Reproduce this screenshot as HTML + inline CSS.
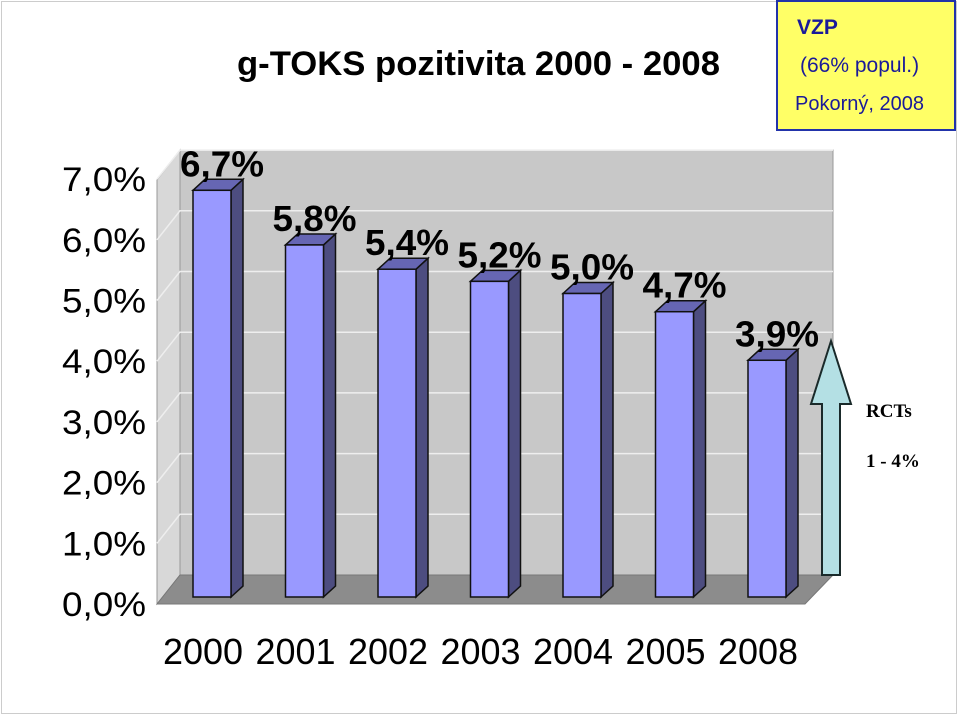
<!DOCTYPE html>
<html><head><meta charset="utf-8"><style>
html,body{margin:0;padding:0;background:#fff}
svg{display:block;font-family:"Liberation Sans",Arial,sans-serif}
</style></head><body>
<svg id="chart" width="960" height="716" viewBox="0 0 960 716" xmlns="http://www.w3.org/2000/svg">
<rect x="1.5" y="1.5" width="955" height="712" fill="#fff" stroke="#ccc" stroke-width="1"/>
<text x="237" y="75" font-size="34" font-weight="bold" textLength="483" lengthAdjust="spacingAndGlyphs">g-TOKS pozitivita 2000 - 2008</text>
<g>
<rect x="777" y="1" width="178" height="129" fill="#ffff66" stroke="#2233aa" stroke-width="2"/>
<text x="797" y="34" font-size="21" font-weight="bold" fill="#1a1a9a">VZP</text>
<text x="800" y="72" font-size="21" fill="#1a1a9a">(66% popul.)</text>
<text x="795" y="110" font-size="20" fill="#1a1a9a">Pokorný, 2008</text>
</g>
<g id="walls"></g>
<g id="bars"></g>
<g id="labels"></g>
<g>
<polygon points="822,575 840,575 840,404 851,404 831,341 811,404 822,404" fill="#b4e0e4" stroke="#1a2a2a" stroke-width="2"/>
</g>
<text x="866" y="417" font-family="'Liberation Serif',serif" font-weight="bold" font-size="19">RCTs</text>
<text x="866" y="467" font-family="'Liberation Serif',serif" font-weight="bold" font-size="19">1 - 4%</text>
</svg>
<script>
const categories=["2000","2001","2002","2003","2004","2005","2008"];
const values=[6.7,5.8,5.4,5.2,5.0,4.7,3.9];
const valueLabels=["6,7%","5,8%","5,4%","5,2%","5,0%","4,7%","3,9%"];
const yTicks=[0,1,2,3,4,5,6,7];
const yTickLabels=["0,0%","1,0%","2,0%","3,0%","4,0%","5,0%","6,0%","7,0%"];
const NS="http://www.w3.org/2000/svg";
const svg=document.getElementById('chart');
function mk(tag,attrs,parent){const e=document.createElementNS(NS,tag);for(const k in attrs)e.setAttribute(k,attrs[k]);parent.appendChild(e);return e;}
const unit=60.7, dx=23, dy=29;
const yBack=v=>575-v*unit, yFront=v=>604-v*unit, yBar=v=>597-v*unit;
const xc=i=>212+i*92.5;
const walls=document.getElementById('walls');
let w=mk('polygon',{points:"180,150 833,150 833,575 180,575",fill:"#c8c8c8",stroke:"#999"},walls);

w=mk('polygon',{points:"157,180 180,150 180,575 157,604",fill:"#d8d8d8",stroke:"#999"},walls);

w=mk('polygon',{points:"157,604 180,575 833,575 805,604",fill:"#8c8c8c",stroke:"#777"},walls);

yTicks.forEach((t,i)=>{
  if(t>0){const g=mk('polyline',{points:`157,${yFront(t)} 180,${yBack(t)} 833,${yBack(t)}`,fill:"none",stroke:"#eee","stroke-width":1.5},walls);
  }
  const tx=mk('text',{x:146,y:yFront(t)+12,"font-size":34,"text-anchor":"end",textLength:84,lengthAdjust:"spacingAndGlyphs"},walls);
  tx.textContent=yTickLabels[i];
  
});
const bars=document.getElementById('bars'), labels=document.getElementById('labels');
values.forEach((v,i)=>{
  const x0=xc(i)-19,x1=xc(i)+19,b=597,t=yBar(v),ox=12,oy=11;
  const g=mk('g',{},bars);
  
  mk('polygon',{points:`${x1},${b} ${x1+ox},${b-oy} ${x1+ox},${t-oy} ${x1},${t}`,fill:"#4d4d80",stroke:"#111","stroke-width":1.5},g);
  mk('polygon',{points:`${x0},${t} ${x0+ox},${t-oy} ${x1+ox},${t-oy} ${x1},${t}`,fill:"#6666b3",stroke:"#111","stroke-width":1.5},g);
  mk('rect',{x:x0,y:t,width:38,height:b-t,fill:"#9999ff",stroke:"#111","stroke-width":1.5},g);
  const l=mk('text',{x:xc(i)+10,y:t-14,"font-size":36,"font-weight":"bold","text-anchor":"middle",textLength:84,lengthAdjust:"spacingAndGlyphs"},labels);
  l.textContent=valueLabels[i];
  
  const c=mk('text',{x:xc(i)-9,y:664,"font-size":36,"text-anchor":"middle",textLength:80,lengthAdjust:"spacingAndGlyphs"},labels);
  c.textContent=categories[i];
  
});
</script>
</body></html>
